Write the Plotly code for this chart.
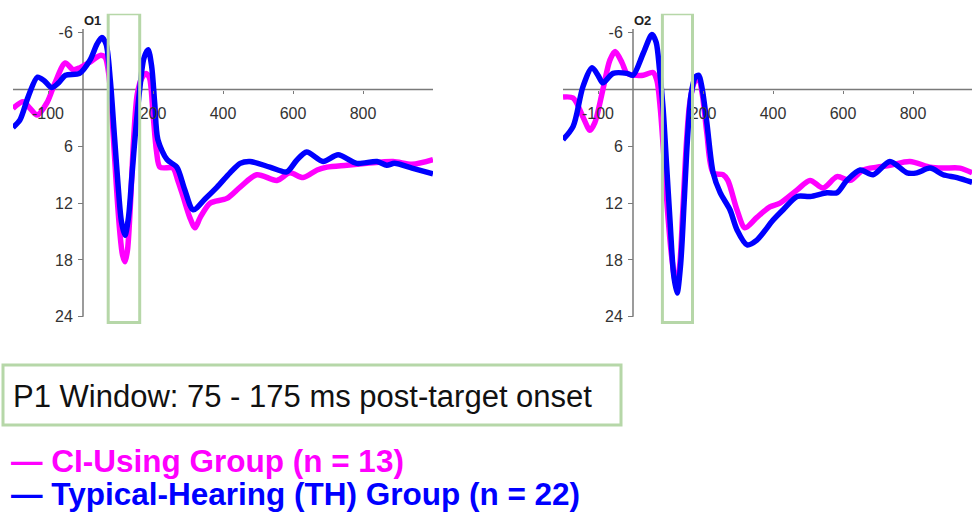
import plotly.graph_objects as go

# ---------------- data (ms, microvolts) ----------------
o1_ci_t = [-200, -171, -151, -131, -103, -80, -51, -28, -9, 20, 49, 63, 74, 85, 95, 105, 113, 120, 127, 135, 145, 155, 168, 180, 190, 200, 210, 220, 257, 270, 286, 305, 320, 335, 363, 411, 449, 497, 554, 591, 629, 669, 697, 754, 811, 886, 940, 1000]
o1_ci_v = [2.0, 1.3, 2.0, 2.7, 1.4, -0.7, -2.8, -2.1, -2.3, -2.9, -3.6, -3.4, -1.5, 4.0, 10.0, 15.0, 17.5, 18.2, 17.0, 12.5, 5.0, 0.5, -1.2, -1.7, -1.2, 2.5, 6.5, 8.2, 8.3, 9.5, 11.3, 13.5, 14.6, 13.5, 12.0, 11.5, 10.3, 9.0, 9.6, 8.8, 9.3, 8.5, 8.2, 8.0, 7.8, 7.6, 7.9, 7.4]

o1_th_t = [-200, -180, -157, -130, -110, -90, -70, -50, -10, 20, 40, 54, 66, 78, 90, 100, 110, 120, 130, 140, 150, 162, 174, 186, 196, 205, 214, 240, 268, 290, 315, 350, 383, 420, 449, 477, 534, 582, 610, 639, 686, 729, 782, 840, 868, 890, 940, 1000]
o1_th_v = [4.0, 3.2, 0.8, -1.3, -0.9, -0.2, -0.7, -1.5, -1.7, -3.1, -4.8, -5.5, -4.8, -1.0, 5.0, 10.0, 14.0, 15.4, 13.5, 9.0, 4.5, 0.0, -3.3, -4.2, -2.5, 1.5, 5.3, 7.4, 8.2, 10.5, 12.7, 11.5, 10.3, 8.8, 7.8, 7.6, 8.2, 8.7, 7.5, 6.6, 7.6, 6.9, 7.8, 7.6, 8.0, 7.8, 8.3, 8.9]

o2_ci_t = [-200, -171, -143, -123, -109, -86, -66, -51, -31, -17, 11, 29, 57, 68, 78, 88, 98, 110, 122, 132, 142, 152, 162, 176, 188, 198, 211, 229, 257, 271, 297, 320, 354, 391, 420, 469, 506, 543, 583, 620, 657, 697, 734, 791, 849, 886, 934, 969]
o2_ci_v = [0.8, 0.9, 2.9, 4.3, 3.5, 0.0, -3.1, -4.0, -2.8, -1.7, -1.5, -1.5, -1.8, -1.0, 2.0, 7.0, 12.5, 17.5, 20.3, 19.0, 13.0, 6.0, 1.5, -0.8, -1.0, 0.5, 4.6, 8.8, 9.0, 9.6, 12.7, 14.6, 13.5, 12.4, 12.0, 10.6, 9.6, 10.4, 9.2, 9.6, 8.5, 8.2, 8.0, 7.6, 8.2, 8.3, 8.3, 8.8]

o2_th_t = [-200, -171, -143, -117, -100, -86, -57, -17, 0, 29, 54, 66, 76, 86, 96, 106, 116, 126, 136, 146, 156, 166, 178, 188, 198, 211, 229, 249, 277, 297, 326, 354, 400, 429, 469, 506, 554, 583, 611, 649, 686, 734, 783, 811, 849, 886, 926, 969]
o2_th_v = [5.3, 3.9, -0.3, -2.3, -1.5, -0.7, -1.7, -1.7, -1.5, -3.8, -5.8, -5.0, -2.0, 2.0, 8.0, 14.0, 19.5, 21.5, 18.5, 12.0, 5.0, 0.5, -1.3, -1.5, 0.0, 3.5, 8.8, 10.9, 12.7, 14.8, 16.4, 15.9, 13.8, 12.7, 11.3, 11.3, 10.9, 10.9, 9.6, 8.5, 9.0, 7.6, 8.8, 8.8, 8.3, 9.0, 9.3, 9.8]

x_ticks = [-100, 200, 400, 600, 800]
x_tick_labels = ["-100", "200", "400", "600", "800"]
y_ticks = [-6, 6, 12, 18, 24]
y_tick_labels = ["-6", "6", "12", "18", "24"]
box_o1 = [72, 162]
box_o2 = [84, 170]
box_v = [-8.0, 24.6]
panel_titles = ["O1", "O2"]
window_text = "P1 Window: 75 - 175 ms post-target onset"
legend_ci = "— CI-Using Group (n = 13)"
legend_th = "— Typical-Hearing (TH) Group (n = 22)"

MAG = "#ff00ff"
BLUE = "#0000ff"
GREEN = "#b6d7a8"
AX = "#7a7a7a"
FONT = "Liberation Sans, Arial, sans-serif"

W, H = 972, 512
px_per_ms = 0.35
px_per_uv = 9.47
y0_px = 89.5
p1_zero_px = 83
p2_zero_px = 633

def ypaper(py):
    return 1 - py / H

yr = [25, -8]
ydom = [ypaper(y0_px + px_per_uv * yr[0]), ypaper(y0_px + px_per_uv * yr[1])]

fig = go.Figure()
line_kw = dict(shape="spline", smoothing=0.8, width=5.5)
fig.add_trace(go.Scatter(x=o1_ci_t, y=o1_ci_v, mode="lines", line=dict(color=MAG, **line_kw), xaxis="x", yaxis="y", showlegend=False))
fig.add_trace(go.Scatter(x=o1_th_t, y=o1_th_v, mode="lines", line=dict(color=BLUE, **line_kw), xaxis="x", yaxis="y", showlegend=False))
fig.add_trace(go.Scatter(x=o2_ci_t, y=o2_ci_v, mode="lines", line=dict(color=MAG, **line_kw), xaxis="x2", yaxis="y2", showlegend=False))
fig.add_trace(go.Scatter(x=o2_th_t, y=o2_th_v, mode="lines", line=dict(color=BLUE, **line_kw), xaxis="x2", yaxis="y2", showlegend=False))

x1_range = [-200, 1000]
x2_range = [-200, (W - p2_zero_px) / px_per_ms]
x1_dom = [(p1_zero_px + px_per_ms * x1_range[0]) / W, (p1_zero_px + px_per_ms * x1_range[1]) / W]
x2_dom = [(p2_zero_px + px_per_ms * x2_range[0]) / W, 1.0]

xax = dict(showgrid=False, zeroline=False, showline=False, tickvals=x_ticks, ticktext=x_tick_labels,
           ticks="outside", ticklen=3, tickcolor=AX,
           tickfont=dict(size=16, color="#333", family=FONT),
           anchor="free", position=ypaper(y0_px), ticklabelstandoff=6)
yax = dict(showgrid=False, zeroline=False, showline=False, tickvals=y_ticks, ticktext=y_tick_labels,
           ticks="outside", ticklen=5, tickcolor=AX,
           tickfont=dict(size=16, color="#333", family=FONT),
           range=yr, domain=ydom, anchor="free", ticklabelstandoff=2)

fig.update_layout(
    width=W, height=H, margin=dict(l=0, r=0, t=0, b=0),
    paper_bgcolor="white", plot_bgcolor="rgba(0,0,0,0)",
    font=dict(family=FONT),
    xaxis=dict(xax, range=x1_range, domain=x1_dom),
    xaxis2=dict(xax, range=x2_range, domain=x2_dom),
    yaxis=dict(yax, position=p1_zero_px / W),
    yaxis2=dict(yax, position=p2_zero_px / W),
)

shapes = []
for xr, yr_, xlo, xhi, box in [("x", "y", x1_range[0], x1_range[1], box_o1), ("x2", "y2", x2_range[0], x2_range[1], box_o2)]:
    shapes.append(dict(type="line", xref=xr, yref=yr_, x0=xlo, x1=xhi, y0=0, y1=0, line=dict(color=AX, width=1.5), layer="below"))
    shapes.append(dict(type="line", xref=xr, yref=yr_, x0=0, x1=0, y0=-6.4, y1=24, line=dict(color=AX, width=1.5), layer="below"))
    shapes.append(dict(type="rect", xref=xr, yref=yr_, x0=box[0], x1=box[1], y0=box_v[0], y1=box_v[1], line=dict(color=GREEN, width=3), layer="above"))
shapes.append(dict(type="rect", xref="paper", yref="paper", x0=3 / W, x1=621 / W, y0=ypaper(425), y1=ypaper(365), line=dict(color=GREEN, width=3)))
fig.update_layout(shapes=shapes)

ann = []
for title, xp in zip(panel_titles, [p1_zero_px, p2_zero_px]):
    ann.append(dict(text="<b>" + title + "</b>", xref="paper", yref="paper", x=(xp - 1) / W, y=ypaper(20), xanchor="left", yanchor="middle", showarrow=False, font=dict(size=13, color="#222", family=FONT)))
ann.append(dict(text=window_text, xref="paper", yref="paper", x=11 / W, y=ypaper(396), xanchor="left", yanchor="middle", showarrow=False, font=dict(size=31, color="#111", family=FONT)))
ann.append(dict(text="<b>" + legend_ci + "</b>", xref="paper", yref="paper", x=9 / W, y=ypaper(461), xanchor="left", yanchor="middle", showarrow=False, font=dict(size=31.5, color=MAG, family=FONT)))
ann.append(dict(text="<b>" + legend_th + "</b>", xref="paper", yref="paper", x=9 / W, y=ypaper(494), xanchor="left", yanchor="middle", showarrow=False, font=dict(size=31.5, color=BLUE, family=FONT)))
fig.update_layout(annotations=ann)

fig.write_html("out.html")
